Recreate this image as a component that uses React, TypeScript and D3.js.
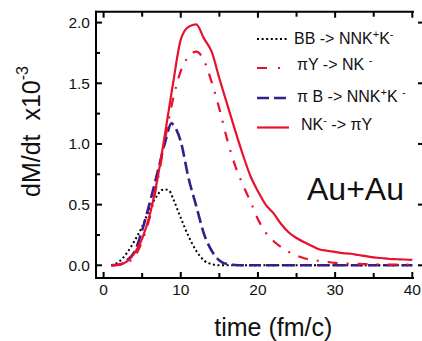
import React from "react";
import * as d3 from "d3";

const times = [1, 2, 3, 4, 5, 6, 7, 8, 9, 10, 11, 12, 13, 14, 15, 16, 17, 18, 19, 20, 21, 22, 23, 24, 25, 26, 27, 28, 29, 30, 31, 32, 33, 34, 35, 36, 37, 38, 39, 40];

const bbTimes = [1, 1.5, 2, 3, 4, 5, 6, 7, 7.5, 8, 8.5, 9, 10, 11, 12, 13, 14, 15, 20, 25, 30, 35, 40];
const bbValues = [0, 0.012, 0.03, 0.1, 0.2, 0.32, 0.47, 0.58, 0.62, 0.625, 0.615, 0.55, 0.39, 0.24, 0.12, 0.04, 0.01, 0, 0, 0, 0, 0, 0];

const piYValues = [0, 0.003, 0.02, 0.07, 0.2, 0.4, 0.7, 1.05, 1.37, 1.6, 1.72, 1.76, 1.69, 1.51, 1.29, 1.04, 0.83, 0.67, 0.53, 0.38, 0.27, 0.2, 0.15, 0.11, 0.08, 0.058, 0.045, 0.036, 0.028, 0.02, 0.016, 0.013, 0.012, 0.01, 0.008, 0.007, 0.006, 0.006, 0.005, 0.005];

const piBTimes = [1, 2, 3, 4, 5, 6, 7, 8, 8.8, 9, 10, 11, 12, 13, 14, 15, 16, 17, 18, 20, 25, 30, 35, 40];
const piBValues = [0, 0.005, 0.04, 0.11, 0.29, 0.52, 0.77, 1.02, 1.17, 1.16, 1.02, 0.72, 0.49, 0.26, 0.12, 0.04, 0.01, 0.003, 0, 0, 0, 0, 0, 0];

const nkValues = [0, 0.005, 0.03, 0.1, 0.22, 0.42, 0.72, 1.1, 1.5, 1.86, 1.965, 1.985, 1.87, 1.76, 1.54, 1.33, 1.12, 0.92, 0.74, 0.61, 0.5, 0.43, 0.34, 0.27, 0.225, 0.19, 0.16, 0.13, 0.12, 0.11, 0.1, 0.095, 0.085, 0.075, 0.065, 0.06, 0.052, 0.05, 0.048, 0.044];

const xTicks = [0, 10, 20, 30, 40];
const xMinor = [5, 15, 25, 35];
const yTicks = [0, 0.5, 1.0, 1.5, 2.0];
const yMinor = [0.25, 0.75, 1.25, 1.75];

const RED = "#e8112d";
const PURPLE = "#3a1c8c";
const FONT = "Liberation Sans, Arial, sans-serif";

export default function App() {
  const x = d3.scaleLinear().domain([0, 40]).range([103.6, 412.3]);
  const y = d3.scaleLinear().domain([0, 2]).range([265.3, 22.6]);
  const left = 96, top = 11.7, bottom = 278, right = 414;

  const line = d3
    .line<[number, number]>()
    .x((d) => x(d[0]))
    .y((d) => y(d[1]))
    .curve(d3.curveMonotoneX);

  const zip = (ts: number[], vs: number[]) => ts.map((t, i) => [t, vs[i]] as [number, number]);

  const series = [
    { key: "bb", d: zip(bbTimes, bbValues), color: "#000", width: 2, dash: "2,2.6" },
    { key: "piB", d: zip(piBTimes, piBValues), color: PURPLE, width: 2.6, dash: "12,5" },
    { key: "piY", d: zip(times, piYValues), color: RED, width: 2.2, dash: "10,9,2,9" },
    { key: "nk", d: zip(times, nkValues), color: RED, width: 2.2, dash: undefined as string | undefined },
  ];

  const legend = [
    { color: "#000", width: 2, dash: "2,2.6", ly: 39, tx: 294, ty: 43.5, parts: [["BB -> NNK", ""], ["+", "sup"], ["K", ""], ["-", "sup"]] },
    { color: RED, width: 2.2, dash: "10,11,2,11", ly: 68, tx: 297, ty: 70, parts: [["\u03c0Y -> NK\u00a0", ""], ["-", "sup"]] },
    { color: PURPLE, width: 2.6, dash: "12,5", ly: 98, tx: 297, ty: 101.5, parts: [["\u03c0\u00a0B -> NNK", ""], ["+", "sup"], ["K\u00a0", ""], ["-", "sup"]] },
    { color: RED, width: 2.2, dash: undefined as string | undefined, ly: 127.5, tx: 301, ty: 130, parts: [["NK", ""], ["-", "sup"], [" -> \u03c0Y", ""]] },
  ];

  return (
    <svg width={422} height={341} style={{ position: "absolute", left: 0, top: 0, background: "#fff" }} fontFamily={FONT}>
      {/* frame */}
      <g stroke="#000" strokeWidth={2} fill="none">
        <line x1={left} x2={left} y1={top - 1} y2={bottom + 1} />
        <line x1={left - 1} x2={right} y1={top} y2={top} />
        <line x1={left - 1} x2={right} y1={bottom} y2={bottom} />
        {xTicks.map((t) => (
          <g key={"xt" + t}>
            <line x1={x(t)} x2={x(t)} y1={bottom} y2={bottom - 6} />
            <line x1={x(t)} x2={x(t)} y1={top} y2={top + 6} />
          </g>
        ))}
        {xMinor.map((t) => (
          <g key={"xm" + t}>
            <line x1={x(t)} x2={x(t)} y1={bottom} y2={bottom - 5} />
            <line x1={x(t)} x2={x(t)} y1={top} y2={top + 5} />
          </g>
        ))}
        {yTicks.map((v) => (
          <g key={"yt" + v}>
            <line x1={left} x2={left + 6} y1={y(v)} y2={y(v)} />
            <line x1={418} x2={423} y1={y(v)} y2={y(v)} />
          </g>
        ))}
        {yMinor.map((v) => (
          <line key={"ym" + v} x1={left} x2={left + 4} y1={y(v)} y2={y(v)} />
        ))}
      </g>

      {/* tick labels */}
      <g fontSize={15.5} fill="#111">
        {xTicks.map((t) => (
          <text key={"xl" + t} x={x(t)} y={295} textAnchor="middle">
            {t}
          </text>
        ))}
        {yTicks.map((v) => (
          <text key={"yl" + v} x={90} y={y(v) + 5.5} textAnchor="end">
            {v.toFixed(1)}
          </text>
        ))}
      </g>

      {/* curves */}
      {series.map((s) => (
        <path key={s.key} d={line(s.d) || ""} fill="none" stroke={s.color} strokeWidth={s.width} strokeDasharray={s.dash} />
      ))}

      {/* legend */}
      {legend.map((l, i) => (
        <g key={"lg" + i}>
          <line x1={257} x2={289} y1={l.ly} y2={l.ly} stroke={l.color} strokeWidth={l.width} strokeDasharray={l.dash} />
          <text x={l.tx} y={l.ty} fontSize={16} fill="#111">
            {l.parts.map((p, j) =>
              p[1] === "sup" ? (
                <tspan key={j} fontSize={11} dy={-6}>
                  {p[0]}
                </tspan>
              ) : (
                <tspan key={j} dy={j > 0 && l.parts[j - 1][1] === "sup" ? 6 : 0}>
                  {p[0]}
                </tspan>
              )
            )}
          </text>
        </g>
      ))}

      <text x={307} y={200} fontSize={32} fill="#111">
        Au+Au
      </text>

      {/* axis titles */}
      <text x={273.3} y={336} fontSize={25} textAnchor="middle" fill="#111">
        time (fm/c)
      </text>
      <text transform="translate(40,197) rotate(-90)" fontSize={25} textAnchor="start" fill="#111">
        <tspan>{"dM/dt\u00a0\u00a0x10"}</tspan>
        <tspan fontSize={16} dy={-12}>-3</tspan>
      </text>
    </svg>
  );
}
